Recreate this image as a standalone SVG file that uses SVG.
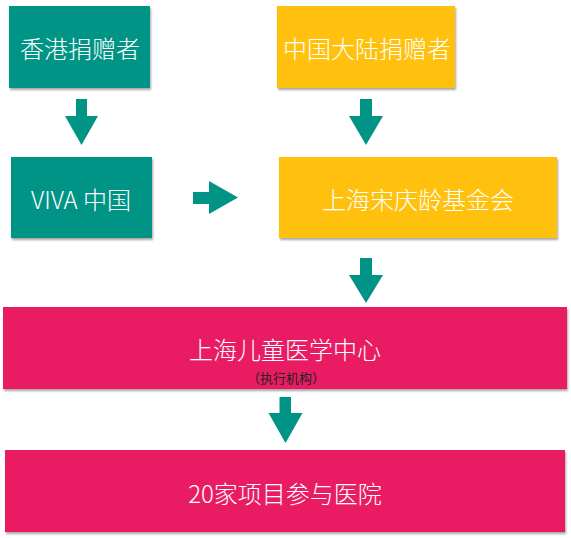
<svg xmlns="http://www.w3.org/2000/svg" width="571" height="538" viewBox="0 0 571 538">
<style>
.teal{fill:#009486}
.yellow{fill:#FFC107}
.pink{fill:#E91E63}
.box{filter:url(#sh)}
.t{fill:#ffffff;font-family:"Noto Sans CJK SC","Noto Sans",sans-serif;font-weight:300;font-size:24px;text-anchor:middle;dominant-baseline:central}
.s{fill:#222222;font-family:"Noto Sans CJK SC","Noto Sans",sans-serif;font-size:13px;text-anchor:middle;dominant-baseline:central}
.arrow{fill:#009486}
</style>
<defs>
<filter id="sh" x="-10%" y="-10%" width="120%" height="130%">
<feDropShadow dx="1" dy="2" stdDeviation="1" flood-color="#000" flood-opacity="0.35"/>
</filter>
</defs>
<rect width="571" height="538" fill="#ffffff"/>
<g id="connectors">
<path class="arrow" d="M76,99 H87 V116 H98 L81.5,145 L65,116 H76 Z"/>
<path class="arrow" d="M360,99 H372 V116 H383 L366,145 L349,116 H360 Z"/>
<path class="arrow" d="M193,192 H209 V181 L238,197.5 L209,214 V204 H193 Z"/>
<path class="arrow" d="M360,258 H372 V275 H383 L366,303 L349,275 H360 Z"/>
<path class="arrow" d="M279.5,397 H291 V413 H302.5 L285.5,443 L268.5,413 H279.5 Z"/>
</g>
<g id="hk-donors">
<rect class="teal box" x="9" y="6" width="141" height="82"/>
<text class="t" x="80" y="47">香港捐赠者</text>
</g>
<g id="cn-donors">
<rect class="yellow box" x="277" y="6" width="178" height="82"/>
<text class="t" x="367" y="47">中国大陆捐赠者</text>
</g>
<g id="viva">
<rect class="teal box" x="11" y="157" width="141" height="81"/>
<text class="t" x="81" y="198">VIVA 中国</text>
</g>
<g id="foundation">
<rect class="yellow box" x="279" y="157" width="278" height="81"/>
<text class="t" x="418" y="198">上海宋庆龄基金会</text>
</g>
<g id="scmc">
<rect class="pink box" x="3" y="307" width="564" height="82"/>
<text class="t" x="285" y="348">上海儿童医学中心</text>
<text class="s" x="286" y="377">（执行机构）</text>
</g>
<g id="hospitals">
<rect class="pink box" x="5" y="450" width="560" height="82"/>
<text class="t" x="285" y="492">20家项目参与医院</text>
</g>
</svg>
